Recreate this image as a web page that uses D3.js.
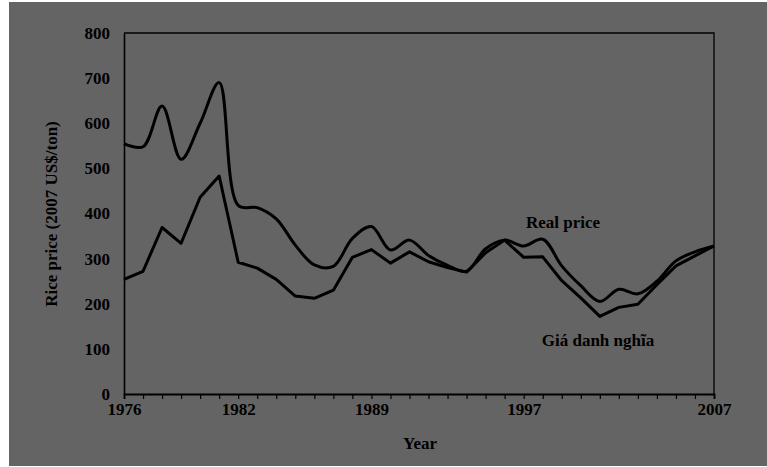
<!DOCTYPE html>
<html>
<head>
<meta charset="utf-8">
<script src="https://cdn.jsdelivr.net/npm/d3@7"></script>
<style>
  body { margin: 0; background: #fff; }
  svg text { font-family: "Liberation Serif", "Times New Roman", serif; font-weight: bold; fill: #000; }
</style>
</head>
<body>
<svg id="chart" width="767" height="467"></svg>
<script>
// Years on the x axis
const years = d3.range(1976, 2008);

// Real price, 2007 US$/ton (smoothed line)
const realPrice = [555, 548, 638, 520, 600, 690, 418, 413, 388, 330, 286, 283, 345, 371, 319, 341,
                   307, 285, 272, 322, 341, 328, 343, 284, 240, 205, 232, 222, 250, 295, 315, 328];

// Nominal price (Giá danh nghĩa), straight segments
const nominalPrice = [254, 272, 369, 334, 436, 483, 292, 279, 254, 217, 212, 230, 303, 320, 290, 315,
                      293, 280, 270, 313, 341, 303, 304, 251, 213, 172, 192, 199, 242, 284, 306, 328];

const yTicks = [0, 100, 200, 300, 400, 500, 600, 700, 800];
const xLabelYears = [1976, 1982, 1989, 1997, 2007];

const width = 767, height = 467;
const margin = { top: 33, right: 53, bottom: 73, left: 124 };

const svg = d3.select('#chart');

// gray backdrop
svg.append('rect')
    .attr('x', 9).attr('y', 2)
    .attr('width', width - 9).attr('height', height - 3)
    .attr('fill', '#646464');

const x = d3.scaleLinear()
    .domain([1976, 2007])
    .range([margin.left, width - margin.right]);

const y = d3.scaleLinear()
    .domain([0, 800])
    .range([height - margin.bottom, margin.top]);

// frame (top and right)
svg.append('path')
    .attr('d', `M${x(1976)},${y(800)}H${x(2007)}V${y(0)}`)
    .attr('fill', 'none')
    .attr('stroke', '#000')
    .attr('stroke-width', 1.3);

// y axis
const yAxis = svg.append('g')
    .attr('transform', `translate(${margin.left},0)`)
    .call(d3.axisLeft(y).tickValues(yTicks).tickSize(0).tickPadding(14));
yAxis.select('.domain').attr('stroke', '#000').attr('stroke-width', 1.6);
yAxis.selectAll('text').attr('font-size', 17).attr('fill', '#000')
    .attr('font-family', '"Liberation Serif", serif');

// x axis, a tick each year
const xAxis = svg.append('g')
    .attr('transform', `translate(0,${y(0)})`)
    .call(d3.axisBottom(x).tickValues(years).tickSize(5).tickPadding(4)
        .tickFormat(d => xLabelYears.includes(d) ? d : ''));
xAxis.select('.domain').attr('stroke', '#000').attr('stroke-width', 1.8);
xAxis.selectAll('line').attr('stroke', '#000').attr('stroke-width', 1.2);
xAxis.selectAll('text').attr('font-size', 17).attr('fill', '#000')
    .attr('font-family', '"Liberation Serif", serif');

// lines
const smoothLine = d3.line()
    .x((d, i) => x(years[i]))
    .y(d => y(d))
    .curve(d3.curveCatmullRom.alpha(0.5));

const straightLine = d3.line()
    .x((d, i) => x(years[i]))
    .y(d => y(d));

svg.append('path')
    .datum(nominalPrice)
    .attr('d', straightLine)
    .attr('fill', 'none')
    .attr('stroke', '#000')
    .attr('stroke-width', 3)
    .attr('stroke-linejoin', 'round');

svg.append('path')
    .datum(realPrice)
    .attr('d', smoothLine)
    .attr('fill', 'none')
    .attr('stroke', '#000')
    .attr('stroke-width', 3)
    .attr('stroke-linejoin', 'round');

// labels
svg.append('text')
    .attr('x', 563).attr('y', 228)
    .attr('text-anchor', 'middle')
    .attr('font-size', 17)
    .text('Real price');

svg.append('text')
    .attr('x', 598).attr('y', 346)
    .attr('text-anchor', 'middle')
    .attr('font-size', 17)
    .text('Giá danh nghĩa');

svg.append('text')
    .attr('x', 420).attr('y', 449)
    .attr('text-anchor', 'middle')
    .attr('font-size', 17)
    .text('Year');

svg.append('text')
    .attr('transform', 'translate(57,214) rotate(-90)')
    .attr('text-anchor', 'middle')
    .attr('font-size', 17)
    .text('Rice price (2007 US$/ton)');
</script>
</body>
</html>
